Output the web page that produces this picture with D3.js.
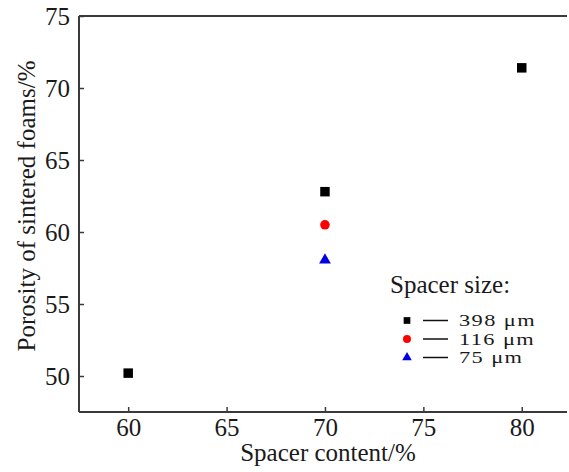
<!DOCTYPE html>
<html><head><meta charset="utf-8">
<script src="https://cdn.jsdelivr.net/npm/d3@7"></script>
<style>
html,body{margin:0;padding:0;background:#fff;}
svg text{font-family:"Liberation Serif","Times New Roman",serif !important;fill:#1a1a1a;}
</style></head>
<body><svg id="chart" width="569" height="472"></svg>
<script>
// Data
const xTicks = [60, 65, 70, 75, 80];
const yTicks = [50, 55, 60, 65, 70, 75];
const x398 = [60, 70, 80];
const y398 = [50.2, 62.8, 71.4];
const x116 = [70];
const y116 = [60.5];
const x75 = [70];
const y75 = [58.05];
const legendLabels = ["398 \u03bcm", "116 \u03bcm", "75 \u03bcm"];
const legendTitle = "Spacer size:";
const xTitle = "Spacer content/%";
const yTitle = "Porosity of sintered foams/%";

const FONT = '"Liberation Serif","Times New Roman",serif';
const svg = d3.select("#chart");
const L = 79, R = 567, T = 16, B = 412;
const x = d3.scaleLinear().domain([57.5, 82.3]).range([L, R]);
const y = d3.scaleLinear().domain([47.5, 75]).range([B, T]);
const axisColor = "#3a3a3a";

// top border
svg.append("line").attr("x1", L).attr("x2", R).attr("y1", T).attr("y2", T)
  .attr("stroke", axisColor).attr("stroke-width", 2);

const gx = svg.append("g").attr("transform", `translate(0,${B})`)
  .call(d3.axisBottom(x).tickValues(xTicks).tickSize(-5).tickPadding(6).tickSizeOuter(0));
const gy = svg.append("g").attr("transform", `translate(${L},0)`)
  .call(d3.axisLeft(y).tickValues(yTicks).tickSize(-5).tickPadding(9).tickSizeOuter(0));
[gx, gy].forEach(g => {
  g.attr("font-family", FONT).attr("font-size", 25);
  g.select(".domain").attr("stroke", axisColor).attr("stroke-width", 2);
  g.selectAll(".tick line").attr("stroke", axisColor).attr("stroke-width", 1.5);
  g.selectAll(".tick text").attr("font-size", 25).attr("font-family", FONT).attr("fill", "#1a1a1a");
});
gx.select(".domain").attr("d", `M${L},0H${R}`);
gy.select(".domain").attr("d", `M0,${B}V${T}`);

// titles
svg.append("text").attr("x", 328).attr("y", 461).attr("text-anchor", "middle")
  .attr("font-family", FONT).attr("font-size", 25).text(xTitle);
svg.append("text").attr("transform", `translate(35,206) rotate(-90)`).attr("text-anchor", "middle")
  .attr("font-family", FONT).attr("font-size", 25).text(yTitle);

// markers
const sq = d3.symbol().type(d3.symbolSquare).size(90);
const ci = d3.symbol().type(d3.symbolCircle).size(72);
const tr = d3.symbol().type(d3.symbolTriangle).size(60);

svg.append("g").selectAll("path").data(x398.map((d, i) => [d, y398[i]])).join("path")
  .attr("d", sq).attr("fill", "#000")
  .attr("transform", d => `translate(${x(d[0])},${y(d[1])})`);
svg.append("g").selectAll("path").data(x116.map((d, i) => [d, y116[i]])).join("path")
  .attr("d", ci).attr("fill", "#ff0000")
  .attr("transform", d => `translate(${x(d[0])},${y(d[1])})`);
svg.append("g").selectAll("path").data(x75.map((d, i) => [d, y75[i]])).join("path")
  .attr("d", tr).attr("fill", "#0000e0")
  .attr("transform", d => `translate(${x(d[0])},${y(d[1])})`);

// legend
const lg = svg.append("g");
lg.append("text").attr("x", 390).attr("y", 293).attr("font-family", FONT).attr("font-size", 25).text(legendTitle);
const legSyms = [
  {s: d3.symbol().type(d3.symbolSquare).size(45), c: "#000"},
  {s: d3.symbol().type(d3.symbolCircle).size(50), c: "#ff0000"},
  {s: d3.symbol().type(d3.symbolTriangle).size(40), c: "#0000e0"}
];
const rowY = [320.5, 339, 357.5];
legendLabels.forEach((lab, i) => {
  lg.append("path").attr("d", legSyms[i].s).attr("fill", legSyms[i].c)
    .attr("transform", `translate(407,${rowY[i]})`);
  lg.append("line").attr("x1", 423).attr("x2", 448).attr("y1", rowY[i]).attr("y2", rowY[i])
    .attr("stroke", "#111").attr("stroke-width", 1.5);
  lg.append("text").attr("transform", `translate(459,${rowY[i] + 5.5}) scale(1.4,1)`)
    .attr("font-family", FONT).attr("font-size", 16)
    .attr("letter-spacing", 1).text(lab);
});
</script></body></html>
